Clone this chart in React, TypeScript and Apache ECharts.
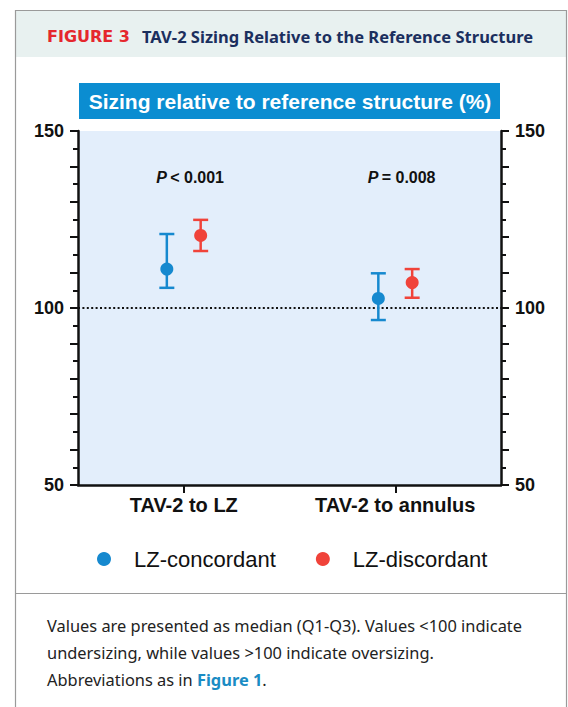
import React, { useEffect, useRef } from "react";
import * as echarts from "echarts";

// Categories and series
const categories = ["TAV-2 to LZ", "TAV-2 to annulus"];
const seriesNames = ["LZ-concordant", "LZ-discordant"];

// Median and interquartile range (Q1, Q3), in % of the reference structure
const concordantMedian = [111.0, 102.7];
const concordantQ1 = [105.7, 96.6];
const concordantQ3 = [120.9, 109.8];
const discordantMedian = [120.5, 107.2];
const discordantQ1 = [116.1, 102.9];
const discordantQ3 = [124.9, 111.0];

// P values per category
const pValueLabels = ["< 0.001", "= 0.008"];

// Axis ticks
const yMin = 50;
const yMax = 150;
const yInterval = 10;
const yTickLabels = [50, 100, 150];
const referenceLine = 100;

const BLUE = "#1689cf";
const RED = "#f0433a";
const AXIS_FONT = "'Liberation Sans', Arial, sans-serif";

function errorBarRenderer(color: string, offsetFrac: number) {
  return (params: any, api: any) => {
    const cat = api.value(0);
    const med = api.coord([cat, api.value(1)]);
    const lo = api.coord([cat, api.value(2)]);
    const hi = api.coord([cat, api.value(3)]);
    const band = api.size([1, 0])[0];
    const x = med[0] + band * offsetFrac;
    const cap = 7.5;
    const ls = { stroke: color, lineWidth: 2.5 };
    return {
      type: "group",
      children: [
        { type: "line", shape: { x1: x, y1: lo[1], x2: x, y2: hi[1] }, style: ls },
        { type: "line", shape: { x1: x - cap, y1: hi[1], x2: x + cap, y2: hi[1] }, style: ls },
        { type: "line", shape: { x1: x - cap, y1: lo[1], x2: x + cap, y2: lo[1] }, style: ls },
        { type: "circle", shape: { cx: x, cy: med[1], r: 6.5 }, style: { fill: color } },
      ],
    };
  };
}

function pLabelRenderer(params: any, api: any) {
  const idx = params.dataIndex;
  const pt = api.coord([api.value(0), api.value(1)]);
  const band = api.size([1, 0])[0];
  return {
    type: "text",
    x: pt[0] + band * 0.03,
    y: pt[1],
    style: {
      text: "{i|P} {n|" + pValueLabels[idx] + "}",
      align: "center",
      verticalAlign: "middle",
      rich: {
        i: { fontFamily: AXIS_FONT, fontSize: 16, fontWeight: "bold", fontStyle: "italic", fill: "#111" },
        n: { fontFamily: AXIS_FONT, fontSize: 16, fontWeight: "bold", fill: "#111" },
      },
    },
  };
}

const yAxisBase = {
  type: "value",
  min: yMin,
  max: yMax,
  interval: yInterval,
  splitLine: { show: false },
  axisLine: { show: true, lineStyle: { color: "#111", width: 2.5 } },
  axisTick: { show: true, length: 8, lineStyle: { color: "#111", width: 2 } },
  minorTick: { show: true, splitNumber: 2, length: 5, lineStyle: { color: "#111", width: 2 } },
  axisLabel: {
    margin: 14,
    fontFamily: AXIS_FONT,
    fontSize: 18,
    fontWeight: "bold",
    color: "#111",
    formatter: (v: number) => (yTickLabels.includes(v) ? String(v) : ""),
  },
};

export default function App() {
  const ref = useRef<HTMLDivElement>(null);

  useEffect(() => {
    if (!ref.current) return;
    const chart = echarts.init(ref.current, undefined, { renderer: "svg" });

    const concordantData = categories.map((_, i) => [i, concordantMedian[i], concordantQ1[i], concordantQ3[i]]);
    const discordantData = categories.map((_, i) => [i, discordantMedian[i], discordantQ1[i], discordantQ3[i]]);

    chart.setOption({
      animation: false,
      backgroundColor: "#ffffff",
      grid: {
        left: 78,
        right: 67,
        top: 131,
        bottom: 222,
        show: true,
        backgroundColor: "#e3eefb",
        borderWidth: 0,
      },
      xAxis: {
        type: "category",
        data: categories,
        boundaryGap: true,
        axisLine: { show: true, onZero: false, lineStyle: { color: "#111", width: 2.5 } },
        axisTick: { show: true, alignWithLabel: true, interval: 0, length: 8, lineStyle: { color: "#111", width: 2 } },
        axisLabel: {
          interval: 0,
          margin: 10,
          fontFamily: AXIS_FONT,
          fontSize: 20,
          fontWeight: "bold",
          color: "#111",
        },
      },
      yAxis: [
        { ...yAxisBase, position: "left" },
        { ...yAxisBase, position: "right" },
      ],
      legend: {
        data: seriesNames,
        left: 92,
        top: 543,
        icon: "circle",
        itemWidth: 14,
        itemHeight: 14,
        itemGap: 40,
        selectedMode: false,
        textStyle: {
          fontFamily: AXIS_FONT,
          fontSize: 22,
          color: "#111",
          padding: [0, 0, 0, 18],
        },
      },
      series: [
        {
          name: "reference",
          type: "line",
          data: [],
          markLine: {
            silent: true,
            symbol: "none",
            label: { show: false },
            lineStyle: { color: "#111", type: [2, 2.4], width: 2 },
            data: [{ yAxis: referenceLine }],
          },
          z: 1,
        },
        {
          name: seriesNames[0],
          type: "custom",
          itemStyle: { color: BLUE },
          encode: { x: 0, y: [1, 2, 3] },
          renderItem: errorBarRenderer(BLUE, -0.08),
          data: concordantData,
          z: 5,
        },
        {
          name: seriesNames[1],
          type: "custom",
          itemStyle: { color: RED },
          encode: { x: 0, y: [1, 2, 3] },
          renderItem: errorBarRenderer(RED, 0.08),
          data: discordantData,
          z: 5,
        },
        {
          name: "p-values",
          type: "custom",
          encode: { x: 0, y: 1 },
          renderItem: pLabelRenderer,
          data: [
            [0, 137.0],
            [1, 137.0],
          ],
          z: 6,
        },
      ],
      graphic: [
        // figure frame and header band
        {
          type: "rect",
          shape: { x: 15, y: 10, width: 552, height: 47 },
          style: { fill: "#e8f1f0" },
          z: 0,
        },
        {
          type: "rect",
          shape: { x: 15.5, y: 10.5, width: 551, height: 720 },
          style: { fill: "none", stroke: "#9a9a9a", lineWidth: 1.2 },
          z: 1,
        },
        {
          type: "line",
          shape: { x1: 15, y1: 593.5, x2: 567, y2: 593.5 },
          style: { stroke: "#9a9a9a", lineWidth: 1.2 },
        },
        {
          type: "text",
          x: 47,
          y: 36,
          style: {
            text: "FIGURE 3",
            fontFamily: "'DejaVu Sans', sans-serif",
            fontWeight: "bold",
            fontSize: 16,
            fill: "#e5272d",
            verticalAlign: "middle",
          },
        },
        {
          type: "text",
          x: 142,
          y: 36,
          style: {
            text: "TAV-2 Sizing Relative to the Reference Structure",
            fontFamily: "'Noto Sans', sans-serif",
            fontWeight: "bold",
            fontSize: 16.5,
            fill: "#1b2f5e",
            verticalAlign: "middle",
          },
        },
        // chart title box
        {
          type: "rect",
          shape: { x: 79, y: 83, width: 421, height: 36 },
          style: { fill: "#0b8dd1" },
        },
        {
          type: "text",
          x: 290,
          y: 101,
          style: {
            text: "Sizing relative to reference structure (%)",
            fontFamily: AXIS_FONT,
            fontWeight: "bold",
            fontSize: 21,
            fill: "#ffffff",
            align: "center",
            verticalAlign: "middle",
          },
        },
        // caption
        {
          type: "text",
          x: 47,
          y: 611.5,
          style: {
            text:
              "Values are presented as median (Q1-Q3). Values <100 indicate\nundersizing, while values >100 indicate oversizing.\nAbbreviations as in {b|Figure 1}.",
            fontFamily: "'Noto Sans', sans-serif",
            fontSize: 16.4,
            lineHeight: 27,
            fill: "#222",
            verticalAlign: "top",
            rich: {
              b: {
                fontFamily: "'Noto Sans', sans-serif",
                fontSize: 16.4,
                fontWeight: "bold",
                lineHeight: 27,
                fill: "#1a8cc4",
              },
            },
          },
        },
      ],
    });

    return () => chart.dispose();
  }, []);

  return (
    <div
      ref={ref}
      style={{ position: "absolute", left: 0, top: 0, width: 568, height: 707 }}
    />
  );
}
